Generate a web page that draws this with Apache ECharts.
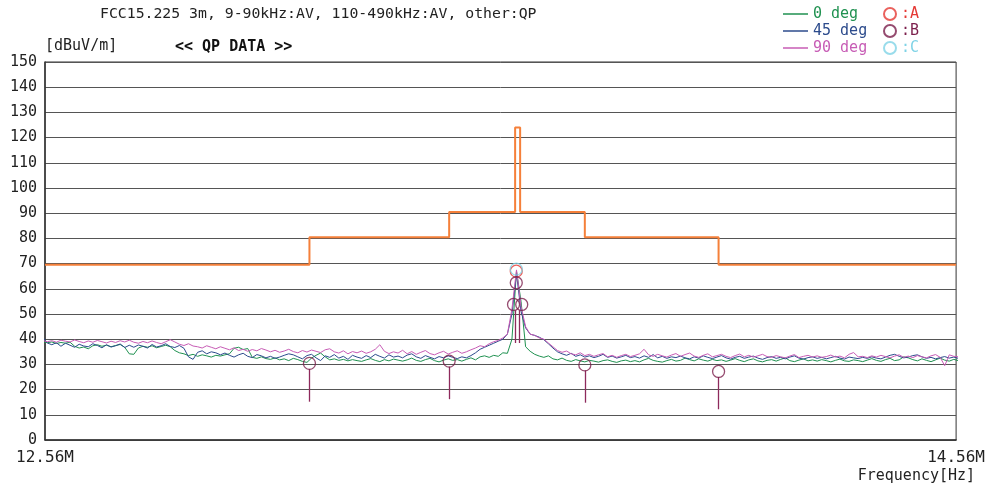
<!DOCTYPE html>
<html>
<head>
<meta charset="utf-8">
<script src="https://cdn.jsdelivr.net/npm/echarts@6/dist/echarts.min.js"></script>
<style>
  html, body { margin: 0; padding: 0; background: #fff; }
  #chart { width: 988px; height: 486px; }
</style>
</head>
<body>
<div id="chart"></div>
<script>
// sweep: first point and spacing in MHz (readings every 10 kHz)
const sweepStart = 12.555;
const sweepStep = 0.01;

const deg0 = [
  39.0, 38.6, 38.9, 38.3, 38.7, 38.4, 38.8, 37.2, 36.5, 36.9,
  36.2, 37.4, 37.8, 37.2, 37.6, 37.0, 37.5, 37.9, 36.8, 34.2,
  34.0, 36.5, 37.2, 36.8, 37.4, 36.6, 37.1, 37.6, 37.0, 35.5,
  34.6, 34.2, 33.5, 34.0, 33.2, 33.8, 33.4, 32.9, 33.6, 33.3,
  33.8, 34.2, 36.4, 36.8, 35.9, 36.3, 32.8, 32.4, 33.0, 32.3,
  32.0, 32.6, 31.8, 32.2, 31.5, 32.4, 31.9, 31.2, 30.8, 32.5,
  33.6, 34.5, 33.0, 31.8, 32.2, 31.6, 32.0, 31.4, 31.9, 31.5,
  31.2, 31.8, 32.3, 31.6, 31.1, 31.9, 31.4, 32.1, 31.7, 31.3,
  31.8, 32.5, 31.6, 31.2, 31.9, 32.4, 31.5, 31.0, 31.7, 32.2,
  31.6, 31.9, 31.3, 32.0, 32.6, 31.8, 33.0, 33.4, 32.8, 33.6,
  33.2, 34.6, 34.4, 40.0, 67.0, 55.0, 37.0, 35.2, 34.0, 33.3,
  32.8, 33.4, 32.2, 31.8, 32.5, 31.6, 31.2, 31.9, 31.4, 31.0,
  31.6, 31.3, 30.9, 31.5, 31.8, 31.2, 30.8, 31.4, 31.7, 31.1,
  31.5, 31.0, 31.8, 32.4, 31.6, 31.2, 30.9, 31.5, 32.0, 31.3,
  31.6, 32.5, 31.9, 31.4, 32.2, 31.7, 31.3, 32.0, 31.5, 31.8,
  31.2, 31.7, 32.3, 31.6, 31.1, 31.8, 32.2, 31.4, 31.0, 31.6,
  31.9, 31.3, 32.0, 32.6, 31.5, 31.1, 31.7, 32.2, 31.4, 31.8,
  31.3, 31.9, 31.5, 31.0, 31.6, 32.1, 31.4, 31.2, 31.8, 31.5,
  31.1, 31.7, 32.3, 31.6, 31.2, 31.9, 32.4, 31.5, 31.8, 33.0,
  32.6, 31.9, 31.4, 32.2, 31.6, 31.1, 31.8, 32.5, 31.7, 31.3, 32.0, 31.5
];

const deg45 = [
  40.8, 38.5, 37.8, 38.6, 37.2, 38.4, 37.6, 36.8, 38.0, 37.3,
  37.0, 38.2, 37.5, 36.6, 37.8, 36.9, 37.4, 38.1, 36.7, 37.6,
  36.8, 37.7, 37.2, 36.5, 37.9, 36.9, 37.4, 38.2, 37.1, 36.7,
  37.5, 36.4, 33.0, 32.0, 34.8, 35.4, 34.2, 35.0, 34.6, 33.8,
  34.5, 33.6, 32.9, 33.8, 34.4, 33.2, 32.7, 33.9, 33.4, 32.6,
  33.2, 32.4, 32.9, 33.6, 34.2, 33.8, 33.0, 32.2, 33.5, 34.0,
  32.6, 31.5, 33.4, 32.8, 33.9, 32.5, 33.2, 32.0, 33.6, 32.9,
  32.4, 33.5, 32.7, 34.0, 33.2, 32.5, 33.8, 32.9, 33.3, 32.6,
  33.7, 34.2, 33.0, 32.4, 33.5, 32.8, 32.2, 33.1, 32.6, 33.4,
  32.8, 32.3, 33.0, 32.6, 33.5, 34.6, 36.0, 36.8, 37.6, 38.4,
  39.2, 40.0, 42.0, 50.0, 66.0, 51.0, 44.5, 42.0, 41.5, 40.8,
  39.8, 38.2, 36.5, 35.0, 34.2, 33.6, 34.4, 33.2, 33.8, 32.9,
  33.4, 32.7, 33.2, 34.0, 32.8, 33.3, 32.5, 33.0, 33.6, 32.7,
  33.1, 32.5, 33.4, 32.8, 33.9, 32.6, 33.2, 32.4, 33.0, 32.7,
  33.3, 32.6, 32.2, 33.0, 32.5, 33.4, 32.8, 32.3, 32.9, 33.5,
  32.6, 32.1, 32.8, 33.2, 32.4, 32.9, 33.3, 32.5, 32.0, 32.7,
  33.1, 32.4, 32.8, 32.2, 32.9, 33.4, 32.5, 32.1, 32.7, 33.0,
  32.4, 32.8, 32.2, 32.7, 33.2, 32.5, 32.1, 32.9, 32.6, 32.3,
  32.8, 32.4, 33.0, 32.5, 32.2, 32.9, 33.6, 34.0, 33.2, 32.6,
  32.9, 33.5, 33.8, 33.0, 32.4, 32.8, 32.2, 32.7, 33.1, 32.5, 32.9, 32.4
];

const deg90 = [
  39.5, 39.0, 39.4, 38.8, 39.6, 39.2, 38.9, 39.7, 39.1, 38.6,
  39.3, 38.8, 39.5, 39.0, 38.5, 39.2, 38.7, 39.4, 38.9, 39.6,
  38.8, 38.4, 39.1, 38.6, 39.3, 38.7, 38.2, 39.0, 39.8, 38.9,
  38.0, 37.5, 38.2, 37.3, 37.0, 36.5, 37.4, 36.8, 36.2, 37.0,
  36.4, 35.8, 36.6, 35.5, 36.0, 35.2, 35.9, 35.4, 36.3, 35.7,
  35.0, 35.6, 34.8, 35.3, 36.0, 35.1, 34.6, 35.5, 34.9, 35.7,
  35.2, 34.7, 35.8, 36.2, 35.0, 34.5, 35.4, 34.2, 35.1, 34.6,
  35.3, 34.4, 35.0, 36.0, 37.8, 35.2, 34.3, 35.0, 34.5, 35.6,
  34.2, 35.1, 34.0, 34.8, 35.5, 34.3, 33.8, 34.6, 35.2, 34.1,
  34.8, 35.4, 34.4, 35.0, 35.8, 36.5, 37.4, 37.0, 38.2, 39.0,
  39.5, 40.5, 42.0, 52.0, 67.5, 53.0, 45.0, 42.0, 41.5, 40.5,
  40.0, 38.5, 37.0, 35.5, 34.8, 35.3, 34.2, 33.8, 34.6, 33.5,
  34.0, 33.2, 33.8, 34.3, 33.0, 33.6, 32.8, 33.5, 34.0, 33.1,
  33.6, 34.2, 36.0, 33.8, 33.2, 34.0, 33.4, 32.9, 33.7, 34.3,
  33.2, 33.9, 34.5, 33.3, 32.8, 33.6, 34.2, 33.0, 33.5, 34.0,
  33.2, 32.7, 33.5, 34.1, 33.0, 33.6, 32.9, 33.4, 34.0, 33.1,
  32.8, 33.5, 33.0, 32.6, 33.3, 33.9, 32.7, 33.2, 33.6, 32.9,
  33.4, 32.8, 33.1, 33.7, 32.9, 33.3, 32.6, 34.0, 34.7, 33.0,
  33.2, 32.7, 33.4, 32.9, 33.6, 33.1, 32.6, 33.3, 33.8, 32.8,
  33.3, 32.7, 33.5, 33.0, 32.6, 33.4, 33.9, 32.8, 29.5, 33.8, 33.2, 33.0
];

// FCC 15.225 limit, band edges (MHz) and level of each band (dBuV/m)
const limitEdges = [12.56, 13.1405, 13.4472, 13.592, 13.603, 13.745, 14.0386, 14.56];
const limitLevels = [69.5, 80.5, 90.5, 124, 90.5, 80.5, 69.5];

// QP markers
const markA = [[13.5945, 67.0]];
const markB = [[13.1405, 30.4], [13.4472, 31.3], [13.5885, 53.8], [13.5945, 62.4],
               [13.6065, 53.8], [13.745, 29.8], [14.0386, 27.2]];
const markC = [[13.5945, 67.8]];
const stemFreqs = [13.1405, 13.4472, 13.5915, 13.6000, 13.745, 14.0386];
const stemTops = [28.2, 29.1, 51.5, 51.5, 27.6, 25.0];
const stemBottoms = [15.2, 16.2, 38.5, 38.5, 14.8, 12.2];

const font = '"DejaVu Sans Mono", "Liberation Mono", monospace';

const toPoints = (vals) =>
  vals.map((v, i) => [+(sweepStart + sweepStep * i).toFixed(3), v]);

const limitPoints = [];
limitLevels.forEach((lv, i) => {
  limitPoints.push([limitEdges[i], lv]);
  limitPoints.push([limitEdges[i + 1], lv]);
});

const markerSeries = (name, data, color) => ({
  name: name,
  type: 'scatter',
  data: data,
  symbol: 'circle',
  symbolSize: 12,
  z: 5,
  itemStyle: { color: 'rgba(0,0,0,0)', borderColor: color, borderWidth: 1.3 },
});

const chart = echarts.init(document.getElementById('chart'));

const option = {
  animation: false,
  textStyle: { fontFamily: font },
  title: [
    {
      text: 'FCC15.225 3m, 9-90kHz:AV, 110-490kHz:AV, other:QP',
      left: 95, top: 2,
      textStyle: { fontFamily: font, fontSize: 14.8, fontWeight: 'normal', color: '#222' },
    },
    {
      text: '<< QP DATA >>',
      left: 170, top: 35,
      textStyle: { fontFamily: font, fontSize: 15, fontWeight: 'bold', color: '#111' },
    },
  ],
  legend: [
    {
      orient: 'vertical',
      left: 778, top: 1,
      itemWidth: 25, itemHeight: 1.5, itemGap: 1,
      icon: 'rect',
      textStyle: { fontFamily: font, fontSize: 15, lineHeight: 16 },
      data: [
        { name: '0 deg', textStyle: { color: '#1f9150' } },
        { name: '45 deg', textStyle: { color: '#2c4b8c' } },
        { name: '90 deg', textStyle: { color: '#c75cb5' } },
      ],
    },
    {
      orient: 'vertical',
      left: 878, top: 1,
      itemWidth: 12, itemHeight: 12, itemGap: 1,
      textStyle: { fontFamily: font, fontSize: 15, lineHeight: 16 },
      data: [
        { name: ':A', textStyle: { color: '#e53935' } },
        { name: ':B', textStyle: { color: '#7b1e4b' } },
        { name: ':C', textStyle: { color: '#7fd3e6' } },
      ],
    },
  ],
  grid: {
    left: 45, right: 30, top: 62, bottom: 46,
    show: true, borderColor: '#333', borderWidth: 1,
  },
  xAxis: {
    type: 'value',
    min: 12.56, max: 14.56,
    name: 'Frequency[Hz]',
    nameLocation: 'end',
    nameGap: 19,
    nameTextStyle: { fontFamily: font, fontSize: 15, color: '#222', align: 'right', verticalAlign: 'top', padding: [29, 0, 0, 0] },
    axisLine: { show: true, lineStyle: { color: '#333', width: 1.5 } },
    axisTick: { show: false },
    splitLine: { show: false },
    axisLabel: {
      customValues: [12.56, 14.56],
      formatter: (v) => v.toFixed(2) + 'M',
      fontSize: 16, color: '#222', margin: 10,
    },
  },
  yAxis: {
    type: 'value',
    min: 0, max: 150, interval: 10,
    name: '[dBuV/m]',
    nameLocation: 'end',
    nameGap: 16,
    nameTextStyle: { fontFamily: font, fontSize: 15, color: '#222', align: 'left', verticalAlign: 'middle' },
    axisLine: { show: true, lineStyle: { color: '#333', width: 1.5 } },
    axisTick: { show: false },
    splitLine: { show: true, lineStyle: { color: '#555', width: 1 } },
    axisLabel: { fontSize: 15, color: '#222', margin: 8 },
  },
  series: [
    {
      name: 'limit', type: 'line', data: limitPoints, symbol: 'none',
      lineStyle: { color: '#f5803a', width: 2 }, z: 3,
    },
    {
      name: '0 deg', type: 'line', data: toPoints(deg0), symbol: 'none',
      itemStyle: { color: '#1f9150' }, lineStyle: { color: '#1f9150', width: 1 },
    },
    {
      name: '45 deg', type: 'line', data: toPoints(deg45), symbol: 'none',
      itemStyle: { color: '#2c4b8c' }, lineStyle: { color: '#2c4b8c', width: 1 },
    },
    {
      name: '90 deg', type: 'line', data: toPoints(deg90), symbol: 'none',
      itemStyle: { color: '#c75cb5' }, lineStyle: { color: '#c75cb5', width: 1 },
    },
    markerSeries(':A', markA, '#e53935'),
    Object.assign(markerSeries(':B', markB, '#7b1e4b'), {
      markLine: {
        silent: true,
        symbol: ['none', 'none'],
        label: { show: false },
        lineStyle: { color: '#8e2a5c', width: 1.3, type: 'solid' },
        data: stemFreqs.map((f, i) => [{ coord: [f, stemTops[i]] }, { coord: [f, stemBottoms[i]] }]),
      },
    }),
    markerSeries(':C', markC, '#7fd3e6'),
  ],
};

chart.setOption(option);
</script>
</body>
</html>
